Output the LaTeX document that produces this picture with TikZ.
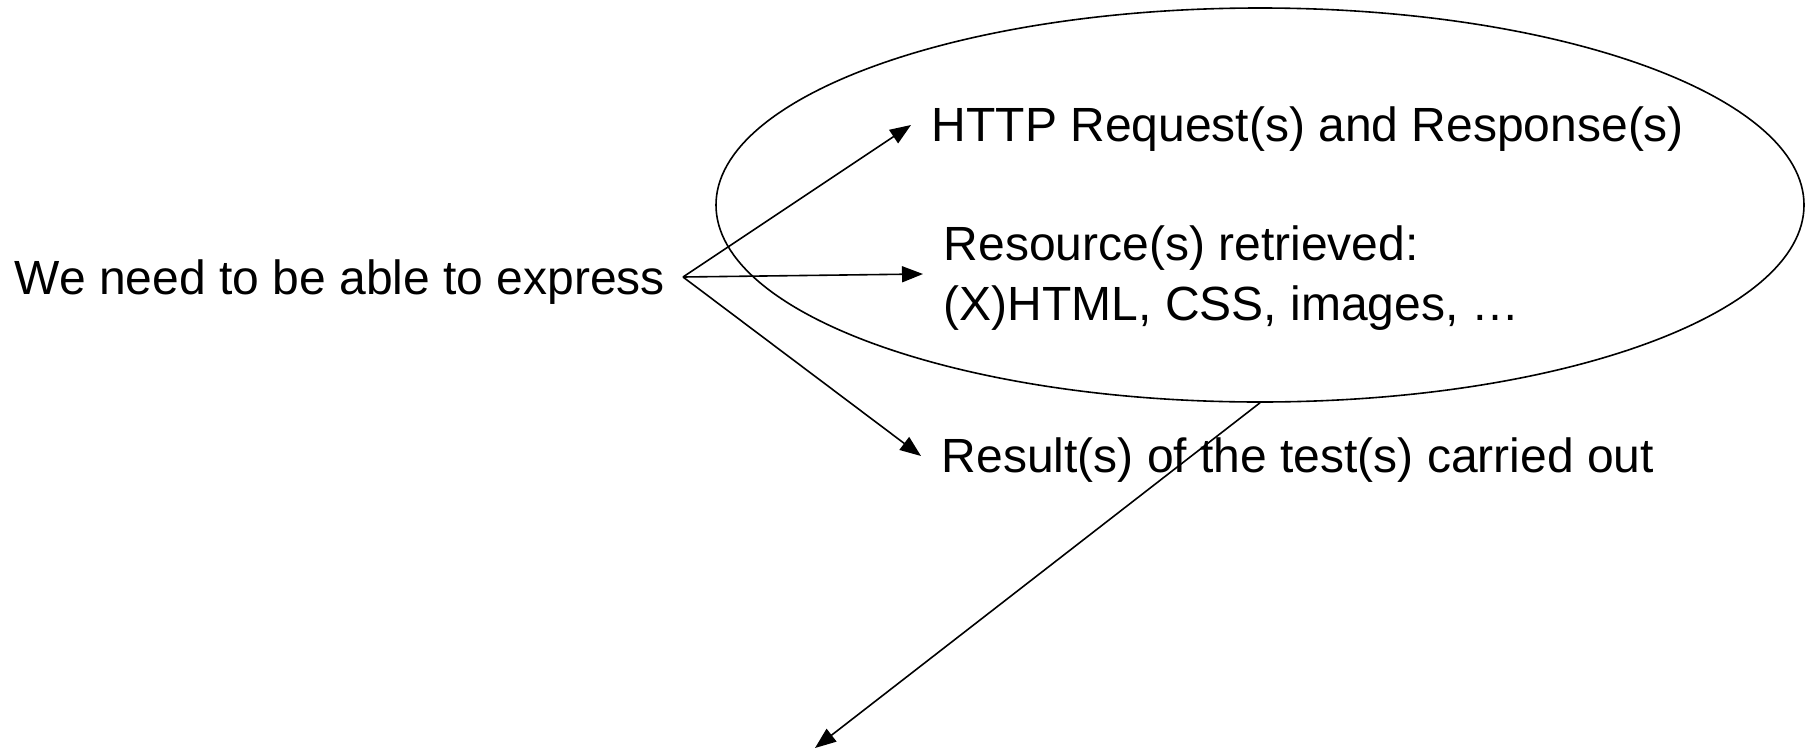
\documentclass[tikz,border=0pt]{standalone}
\usepackage{fontspec}
\setmainfont{Liberation Sans}
\usetikzlibrary{arrows.meta,shapes.geometric}

\begin{document}
\begin{tikzpicture}[x=1pt, y=-1pt, line width=1.6pt,
  >={Triangle[length=21pt,width=16pt]},
  every node/.style={font=\fontsize{48}{60}\selectfont, inner sep=0pt}]
\tikzstyle{item}=[anchor=west, align=left, inner xsep=20pt]
\useasboundingbox (0,0) rectangle (1807,750);
\node[ellipse, draw, minimum width=1088pt, minimum height=394pt] (scope) at (1260,205) {};
\node[anchor=west]  (need)   at (14,282)   {We need to be able to express};
\coordinate (src) at (683,277);
\node[item]    (http)   at (911,129)  {HTTP Request(s) and Response(s)};
\node[item]    (res)    at (923,278)  {Resource(s) retrieved:\\(X)HTML, CSS, images, …};
\node[item]    (result) at (921,460)  {Result(s) of the test(s) carried out};
\coordinate (out) at (815,748);
\draw[->] (src) -- ([yshift=4pt]http.west);
\draw[->] (src) -- ([yshift=4pt]res.west);
\draw[->] (src) -- ([yshift=4pt]result.west);
\draw[->] (scope.south) -- (out);
\end{tikzpicture}
\end{document}
